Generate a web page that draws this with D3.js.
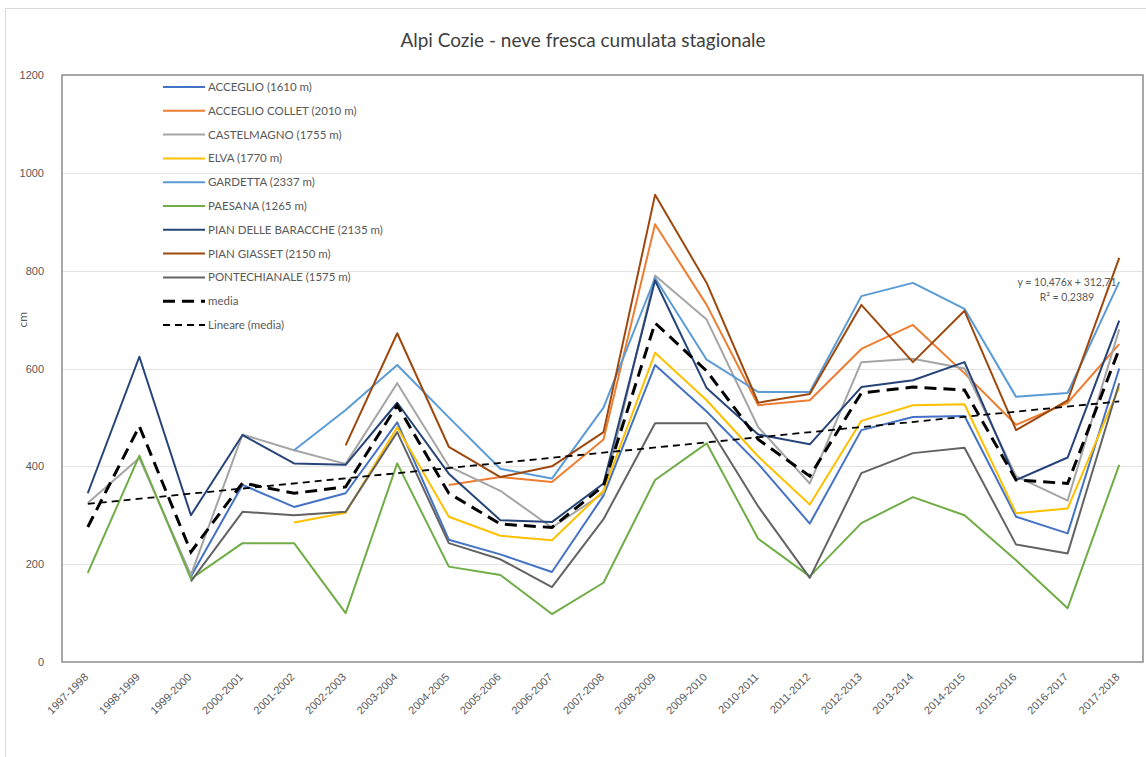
<!DOCTYPE html>
<html>
<head>
<meta charset="utf-8">
<script src="https://cdn.jsdelivr.net/npm/d3@7"></script>
<style>
  body { margin: 0; background: #fff; }
  svg { font-family: Lato, "Liberation Sans", sans-serif; }
</style>
</head>
<body>
<script>
// seasons on the x axis
var seasons = ["1997-1998", "1998-1999", "1999-2000", "2000-2001", "2001-2002", "2002-2003",
  "2003-2004", "2004-2005", "2005-2006", "2006-2007", "2007-2008", "2008-2009", "2009-2010",
  "2010-2011", "2011-2012", "2012-2013", "2013-2014", "2014-2015", "2015-2016", "2016-2017", "2017-2018"];

var stationNames = ["ACCEGLIO (1610 m)", "ACCEGLIO COLLET (2010 m)", "CASTELMAGNO (1755 m)", "ELVA (1770 m)",
  "GARDETTA (2337 m)", "PAESANA (1265 m)", "PIAN DELLE BARACCHE (2135 m)", "PIAN GIASSET (2150 m)",
  "PONTECHIANALE (1575 m)"];
var stationColors = ["#4472C4", "#ED7D31", "#A5A5A5", "#FFC000", "#5B9BD5", "#70AD47", "#264478", "#9E480E", "#636363"];

// cm of fresh snow per season (null = no data)
var acceglio     = [null, null, 175, 362, 317, 345, 490, 250, 220, 184, 340, 607, 512, 405, 283, 474, 501, 503, 297, 263, 600];
var accColLet    = [null, null, null, null, null, null, null, 362, 378, 368, 455, 895, 730, 525, 535, 640, 689, 590, 485, 530, 650];
var castelmagno  = [325, 417, 178, 465, 433, 405, 570, 400, 350, 275, 345, 790, 700, 480, 365, 613, 620, 600, 380, 330, 680];
var elva         = [null, null, null, null, 285, 305, 480, 297, 258, 249, 350, 632, 535, 420, 322, 493, 525, 527, 304, 314, 562];
var gardetta     = [null, null, null, null, 433, 515, 607, 500, 395, 375, 520, 785, 618, 552, 552, 748, 775, 722, 542, 550, 777];
var paesana      = [182, 422, 170, 243, 243, 100, 406, 195, 178, 98, 162, 372, 447, 252, 175, 284, 337, 300, 208, 110, 403];
var pianBaracche = [345, 624, 300, 464, 406, 403, 530, 385, 290, 286, 365, 780, 560, 465, 445, 562, 576, 613, 372, 418, 698];
var pianGiasset  = [null, null, null, null, null, 443, 672, 440, 378, 400, 470, 955, 775, 530, 548, 730, 613, 718, 474, 535, 826];
var pontechianale= [null, null, 165, 307, 300, 307, 470, 243, 210, 153, 292, 488, 488, 318, 172, 386, 427, 438, 240, 222, 570];
var media        = [276, 482, 225, 366, 345, 358, 525, 345, 282, 275, 360, 693, 595, 455, 380, 550, 562, 556, 372, 365, 640];

// linear trend of "media", as printed on the chart
var trendSlope = 10.476, trendIntercept = 312.71;
var trendLabel = ["y = 10,476x + 312,71", "R² = 0,2389"];

var yTicks = [0, 200, 400, 600, 800, 1000, 1200];

var stations = [acceglio, accColLet, castelmagno, elva, gardetta, paesana, pianBaracche, pianGiasset, pontechianale];

var W = 1146, H = 757;
var m = { t: 75, r: 1, b: 95, l: 62 };

var svg = d3.select("body").append("svg")
  .attr("width", W)
  .attr("height", H);

// outer chart frame
svg.append("rect")
  .attr("x", 5.5).attr("y", 8.5)
  .attr("width", W).attr("height", H)
  .attr("fill", "none")
  .attr("stroke", "#d9d9d9");

var x = d3.scalePoint().domain(seasons).range([m.l, W - m.r]).padding(0.5);
var y = d3.scaleLinear().domain([0, 1200]).range([H - m.b, m.t]);

// gridlines
svg.append("g")
  .selectAll("line")
  .data(yTicks.slice(1, -1))
  .enter().append("line")
  .attr("x1", m.l).attr("x2", W - m.r - 2)
  .attr("y1", function(d) { return Math.round(y(d)) + 0.5; })
  .attr("y2", function(d) { return Math.round(y(d)) + 0.5; })
  .attr("stroke", "#e3e3e3")
  .attr("stroke-width", 1);

// plot area border
svg.append("rect")
  .attr("x", m.l).attr("y", y(1200))
  .attr("width", W - m.r - 2 - m.l).attr("height", y(0) - y(1200))
  .attr("fill", "none")
  .attr("stroke", "#8c8c8c")
  .attr("stroke-width", 1.5);

// y axis labels
var yAxis = d3.axisLeft(y).tickValues(yTicks).tickFormat(d3.format("d")).tickSize(0).tickPadding(18);
svg.append("g")
  .attr("transform", "translate(" + m.l + ",0)")
  .call(yAxis)
  .call(function(g) { g.select(".domain").remove(); })
  .selectAll("text")
  .attr("fill", "#595959")
  .style("font-size", "11px");

svg.append("text")
  .attr("transform", "translate(27," + y(700) + ") rotate(-90)")
  .attr("text-anchor", "middle")
  .attr("fill", "#595959")
  .style("font-size", "12px")
  .text("cm");

// x axis labels
var xAxis = d3.axisBottom(x).tickSize(0).tickPadding(0);
svg.append("g")
  .attr("transform", "translate(0," + y(0) + ")")
  .call(xAxis)
  .call(function(g) { g.select(".domain").remove(); })
  .selectAll("text")
  .attr("fill", "#595959")
  .style("font-size", "11px")
  .style("text-anchor", "end")
  .attr("dy", "0.35em")
  .attr("transform", "translate(-2,13) rotate(-45)");

// title
svg.append("text")
  .attr("x", 583).attr("y", 47)
  .attr("text-anchor", "middle")
  .attr("fill", "#404040")
  .style("font-size", "19px")
  .text("Alpi Cozie - neve fresca cumulata stagionale");

var line = d3.line()
  .defined(function(d) { return d != null; })
  .x(function(d, i) { return x(seasons[i]); })
  .y(function(d) { return y(d); });

// station lines
svg.append("g")
  .selectAll("path")
  .data(stations)
  .enter().append("path")
  .attr("d", line)
  .attr("fill", "none")
  .attr("stroke", function(d, i) { return stationColors[i]; })
  .attr("stroke-width", 2)
  .attr("stroke-linejoin", "round");

// trend line of media
var tFirst = 1, tLast = seasons.length;
svg.append("line")
  .attr("x1", x(seasons[0])).attr("y1", y(trendSlope * tFirst + trendIntercept))
  .attr("x2", x(seasons[seasons.length - 1])).attr("y2", y(trendSlope * tLast + trendIntercept))
  .attr("stroke", "#000")
  .attr("stroke-width", 1.8)
  .attr("stroke-dasharray", "7,5");

// media
svg.append("path")
  .attr("d", line(media))
  .attr("fill", "none")
  .attr("stroke", "#000")
  .attr("stroke-width", 3)
  .attr("stroke-dasharray", "12,7");

// trend equation
svg.selectAll(".eq")
  .data(trendLabel)
  .enter().append("text")
  .attr("class", "eq")
  .attr("x", 1067)
  .attr("y", function(d, i) { return 286 + i * 15; })
  .attr("text-anchor", "middle")
  .attr("fill", "#595959")
  .style("font-size", "10.5px")
  .text(function(d) { return d; });

// legend
var legendItems = stationNames.map(function(n, i) {
  return { name: n, color: stationColors[i], width: 2, dash: null };
});
legendItems.push({ name: "media", color: "#000", width: 3, dash: "12,7" });
legendItems.push({ name: "Lineare (media)", color: "#000", width: 1.8, dash: "7,5" });

var legend = svg.selectAll(".legend")
  .data(legendItems)
  .enter().append("g")
  .attr("class", "legend")
  .attr("transform", function(d, i) {
    return "translate(163," + (87 + i * 23.8) + ")";
  });

legend.append("line")
  .attr("x1", 0).attr("x2", 42)
  .attr("stroke", function(d) { return d.color; })
  .attr("stroke-width", function(d) { return d.width; })
  .attr("stroke-dasharray", function(d) { return d.dash; });

legend.append("text")
  .attr("x", 45)
  .attr("dy", "0.35em")
  .attr("fill", "#595959")
  .style("font-size", "11.5px")
  .text(function(d) { return d.name; });
</script>
</body>
</html>
